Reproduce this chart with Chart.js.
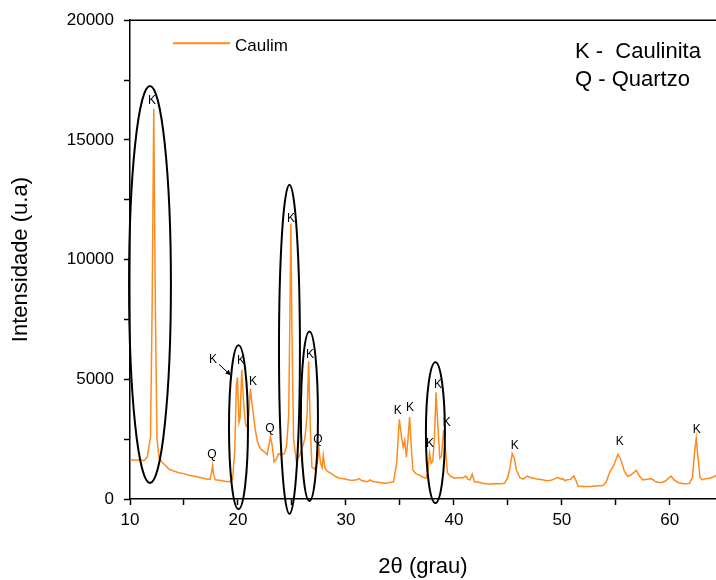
<!DOCTYPE html>
<html lang="pt">
<head>
<meta charset="UTF-8" />
<title>DRX - Caulim</title>
<script src="https://cdn.jsdelivr.net/npm/chart.js@4.4.1"></script>
<style>
  html, body { margin:0; padding:0; background:#fff; }
</style>
</head>
<body>
<canvas id="xrd" width="716" height="580"></canvas>

<script>
  // 2theta (grau) and intensity (u.a)
  var twoTheta = [
    10.0, 10.5, 11.0, 11.3, 11.6, 11.9, 12.05, 12.2, 12.35, 12.5, 12.7, 13.0, 13.3, 13.6,
    14.0, 14.5, 15.0, 15.5, 16.0, 16.5, 17.0, 17.4, 17.55, 17.65, 17.75, 17.9, 18.3, 18.8,
    19.2, 19.5, 19.7, 19.85, 19.95, 20.1, 20.2, 20.35, 20.5, 20.7, 20.85, 21.0, 21.15, 21.3,
    21.6, 21.8, 22.0, 22.2, 22.5, 22.7, 22.85, 23.0, 23.15, 23.35, 23.6, 23.75, 24.0, 24.3,
    24.5, 24.7, 24.82, 24.9, 25.0, 25.15, 25.4, 25.7, 26.0, 26.2, 26.4, 26.55, 26.7, 26.85,
    27.1, 27.35, 27.5, 27.65, 27.8, 27.9, 28.05, 28.3, 28.7, 29.0, 29.4, 29.8, 30.3, 30.7,
    31.0, 31.2, 31.5, 32.0, 32.2, 32.5, 33.0, 33.6, 34.0, 34.4, 34.7, 34.95, 35.15, 35.3,
    35.45, 35.6, 35.75, 35.9, 36.05, 36.2, 36.5, 36.8, 37.1, 37.4, 37.6, 37.75, 37.9, 38.05,
    38.2, 38.35, 38.5, 38.7, 38.85, 39.05, 39.2, 39.4, 39.7, 40.1, 40.5, 40.8, 41.1, 41.3,
    41.5, 41.7, 41.9, 42.3, 42.8, 43.3, 43.8, 44.3, 44.7, 45.0, 45.2, 45.4, 45.6, 45.8,
    46.1, 46.4, 46.8, 47.1, 47.4, 47.8, 48.2, 48.6, 49.0, 49.3, 49.6, 49.9, 50.1, 50.3,
    50.5, 50.8, 51.1, 51.3, 51.5, 52.0, 52.6, 53.2, 53.8, 54.1, 54.4, 54.8, 55.2, 55.5,
    55.8, 56.1, 56.4, 56.9, 57.2, 57.5, 57.9, 58.3, 58.7, 59.2, 59.6, 60.1, 60.4, 60.8,
    61.3, 61.8, 62.1, 62.3, 62.45, 62.6, 62.8, 63.0, 63.3, 63.7, 64.0, 64.3
  ];
  var caulim = [
    1650, 1620, 1640, 1600, 1750, 2600, 8000, 16300, 8000, 2500, 1700, 1520, 1400, 1250,
    1180, 1100, 1060, 980, 950, 900, 850, 820, 1100, 1400, 1000, 800, 780, 740,
    720, 800, 2000, 4700, 5080, 3200, 3400, 5400, 4200, 3100, 3000, 3500, 4600, 4000,
    2900, 2400, 2170, 2050, 1950, 1850, 2200, 2580, 2300, 1550, 1700, 1900, 1830, 1900,
    2200, 3500, 8000, 11500, 7000, 2500, 1600, 1800, 2200, 2540, 3500, 5750, 3000, 1330,
    1250, 1500, 2100, 1500, 1300, 1830, 1300, 1150, 1050, 950, 870, 850, 790, 780,
    800, 850, 760, 720, 800, 730, 700, 660, 680, 720, 1500, 3330, 2600, 2170,
    2460, 1750, 2500, 3420, 2200, 1200, 1050, 1000, 920, 870, 1120, 1920, 1500, 1600,
    2600, 4460, 3200, 1700, 1800, 2870, 2200, 1100, 950, 870, 900, 880, 960, 820,
    800, 1040, 720, 700, 650, 620, 650, 640, 660, 900, 1330, 1900, 1700, 1200,
    900, 830, 960, 900, 870, 820, 800, 760, 780, 830, 900, 840, 850, 760,
    800, 820, 960, 780, 540, 520, 520, 540, 560, 700, 1080, 1400, 1870, 1600,
    1150, 950, 1000, 1200, 950, 800, 820, 850, 720, 680, 750, 960, 800, 680,
    640, 650, 900, 2000, 2540, 1800, 900, 800, 850, 870, 920, 980
  ];

  var xTicks = [10, 15, 20, 25, 30, 35, 40, 45, 50, 55, 60];
  var yTicks = [0, 2500, 5000, 7500, 10000, 12500, 15000, 17500, 20000];

  // phase marks above the peaks
  var markText = ['K','Q','K','K','K','Q','K','K','Q','K','K','K','K','K','K','K','K'];
  var markX = [12.04, 17.59, 17.69, 20.28, 21.39, 22.96, 24.91, 26.67, 27.41, 34.81, 35.93,
               37.78, 38.52, 39.35, 45.65, 55.37, 62.5];
  var markY = [16625, 1833, 5833, 5792, 4917, 2917, 11708, 6042, 2458, 3708, 3833,
               2292, 4792, 3167, 2208, 2375, 2875];

  // ellipses round the main kaolinite reflections (centre and half axes in data units)
  var ringX  = [11.85, 20.05, 24.77, 26.62, 38.29];
  var ringY  = [8960, 3000, 6250, 3460, 2770];
  var ringRx = [1.94, 0.88, 0.97, 0.79, 0.88];
  var ringRy = [8290, 3420, 6875, 3540, 2940];

  var FONT = '"Liberation Sans", Arial, sans-serif';
  var ORANGE = '#ff8a1e';

  var points = twoTheta.map(function(v, i){ return { x: v, y: caulim[i] }; });

  var extras = {
    id: 'extras',
    afterDraw: function(c){
      var ctx = c.ctx, xs = c.scales.x, ys = c.scales.y, a = c.chartArea;
      ctx.save();

      // top frame line
      ctx.strokeStyle = '#000';
      ctx.lineWidth = 1.5;
      ctx.beginPath();
      ctx.moveTo(a.left, a.top);
      ctx.lineTo(c.width, a.top);
      ctx.stroke();

      // ellipses
      ctx.lineWidth = 2;
      for (var i = 0; i < ringX.length; i++){
        var cx = xs.getPixelForValue(ringX[i]);
        var cy = ys.getPixelForValue(ringY[i]);
        var rx = Math.abs(xs.getPixelForValue(ringX[i] + ringRx[i]) - cx);
        var ry = Math.abs(ys.getPixelForValue(ringY[i] + ringRy[i]) - cy);
        ctx.beginPath();
        ctx.ellipse(cx, cy, rx, ry, 0, 0, Math.PI * 2);
        ctx.stroke();
      }

      // K / Q marks
      ctx.fillStyle = '#000';
      ctx.font = '12px ' + FONT;
      ctx.textAlign = 'center';
      ctx.textBaseline = 'middle';
      for (var j = 0; j < markText.length; j++){
        ctx.fillText(markText[j], xs.getPixelForValue(markX[j]), ys.getPixelForValue(markY[j]));
      }

      // arrow from the lone K to the 19.9 peak
      var x1 = xs.getPixelForValue(18.24), y1 = ys.getPixelForValue(5625);
      var x2 = xs.getPixelForValue(19.35), y2 = ys.getPixelForValue(5167);
      ctx.lineWidth = 1;
      ctx.beginPath(); ctx.moveTo(x1, y1); ctx.lineTo(x2, y2); ctx.stroke();
      var ang = Math.atan2(y2 - y1, x2 - x1);
      ctx.beginPath();
      ctx.moveTo(x2, y2);
      ctx.lineTo(x2 - 6 * Math.cos(ang - 0.45), y2 - 6 * Math.sin(ang - 0.45));
      ctx.lineTo(x2 - 6 * Math.cos(ang + 0.45), y2 - 6 * Math.sin(ang + 0.45));
      ctx.closePath();
      ctx.fill();

      // legend
      ctx.strokeStyle = ORANGE;
      ctx.lineWidth = 2;
      ctx.beginPath();
      ctx.moveTo(a.left + 43, a.top + 23);
      ctx.lineTo(a.left + 100, a.top + 23);
      ctx.stroke();
      ctx.fillStyle = '#000';
      ctx.font = '17px ' + FONT;
      ctx.textAlign = 'left';
      ctx.textBaseline = 'alphabetic';
      ctx.fillText(c.data.datasets[0].label, a.left + 105, a.top + 31);

      // phase key
      ctx.font = '22px ' + FONT;
      ctx.fillText('K -  Caulinita', 575, 58);
      ctx.fillText('Q - Quartzo', 575, 86);

      ctx.restore();
    }
  };

  new Chart(document.getElementById('xrd'), {
    type: 'line',
    data: {
      datasets: [{
        label: 'Caulim',
        data: points,
        borderColor: ORANGE,
        borderWidth: 1.5,
        pointRadius: 0,
        tension: 0,
        fill: false
      }]
    },
    options: {
      responsive: false,
      animation: false,
      layout: { padding: { top: 20, right: 0, left: 0, bottom: 0 } },
      plugins: { legend: { display: false }, tooltip: { enabled: false } },
      scales: {
        x: {
          type: 'linear',
          min: 10, max: 64.28,
          afterBuildTicks: function(s){ s.ticks = xTicks.map(function(v){ return { value: v }; }); },
          afterFit: function(s){ s.height = 81; },
          grid: { drawOnChartArea: false, drawTicks: true, tickLength: 6, color: '#000', tickWidth: 1.5 },
          border: { color: '#000', width: 1.5 },
          ticks: {
            color: '#000', padding: 5, maxRotation: 0, autoSkip: false,
            font: { family: FONT, size: 17 },
            callback: function(v){ return v % 10 === 0 ? v : ''; }
          },
          title: {
            display: true, text: '2θ (grau)', color: '#000',
            font: { family: FONT, size: 22 }, padding: { top: 0, bottom: 0 }
          }
        },
        y: {
          min: 0, max: 20000,
          afterBuildTicks: function(s){ s.ticks = yTicks.map(function(v){ return { value: v }; }); },
          afterFit: function(s){ s.width = 130; },
          grid: { drawOnChartArea: false, drawTicks: true, tickLength: 6, color: '#000', tickWidth: 1.5 },
          border: { color: '#000', width: 1.5 },
          ticks: {
            color: '#000', padding: 10, autoSkip: false,
            font: { family: FONT, size: 17 },
            callback: function(v){ return v % 5000 === 0 ? v : ''; }
          },
          title: {
            display: true, text: 'Intensidade (u.a)', color: '#000',
            font: { family: FONT, size: 22 }, padding: { top: 8, bottom: 0 }
          }
        }
      }
    },
    plugins: [extras]
  });
</script>
</body>
</html>
